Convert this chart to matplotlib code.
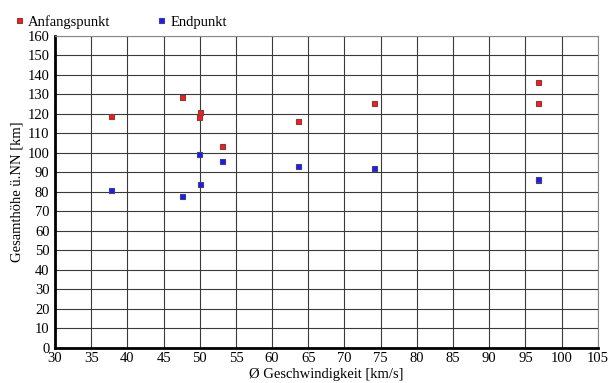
import matplotlib
matplotlib.use('Agg')
import matplotlib.pyplot as plt

plt.rcParams['font.family'] = ['Liberation Serif', 'DejaVu Serif']

# Anfangspunkt
start_v = [37.7, 47.5, 50.0, 49.9, 53.1, 63.6, 74.1, 96.7, 96.8]
start_h = [118.8, 128.7, 121.0, 118.5, 103.5, 116.4, 125.8, 136.3, 125.8]
# Endpunkt
end_v = [37.7, 47.5, 49.9, 50.0, 53.1, 63.6, 74.1, 96.7, 96.8]
end_h = [81.0, 78.0, 99.4, 84.0, 96.0, 93.5, 92.5, 86.3, 86.8]

fig = plt.figure(figsize=(6.14, 3.83), dpi=100)
ax = fig.add_axes([0.0896, 0.0914, 0.884, 0.815])

ax.plot(start_v, start_h, 's', color='#ff1a1a', markeredgecolor='#7a4040',
        markersize=3.6, markeredgewidth=0.8, label='Anfangspunkt', zorder=3)
ax.plot(end_v, end_h, 's', color='#1a1aff', markeredgecolor='#40407a',
        markersize=3.6, markeredgewidth=0.8, label='Endpunkt', zorder=3)

ax.set_xlim(30, 105)
ax.set_ylim(0, 160)
ax.set_xticks(range(30, 106, 5))
ax.set_yticks(range(0, 161, 10))
ax.grid(True, color='#3a3a3a', linewidth=0.8)
ax.set_axisbelow(True)
ax.tick_params(labelsize=10.5, length=0)
ax.tick_params(axis='x', pad=3)
ax.tick_params(axis='y', pad=4)

for s in ['top', 'right']:
    ax.spines[s].set_color('#888888')
    ax.spines[s].set_linewidth(0.8)
for s in ['left', 'bottom']:
    ax.spines[s].set_color('black')
    ax.spines[s].set_linewidth(2)

ax.set_xlabel('Ø Geschwindigkeit [km/s]', fontsize=10.5, labelpad=2)
ax.set_ylabel('Gesamthöhe ü.NN [km]', fontsize=10.5, labelpad=3)

ax.legend(loc='lower left', bbox_to_anchor=(-0.09, 1.0), ncol=2, frameon=False,
          fontsize=10.5, handlelength=0.8, handletextpad=0.2, columnspacing=3.1,
          borderaxespad=0.1)

fig.savefig('out.png', dpi=100)
